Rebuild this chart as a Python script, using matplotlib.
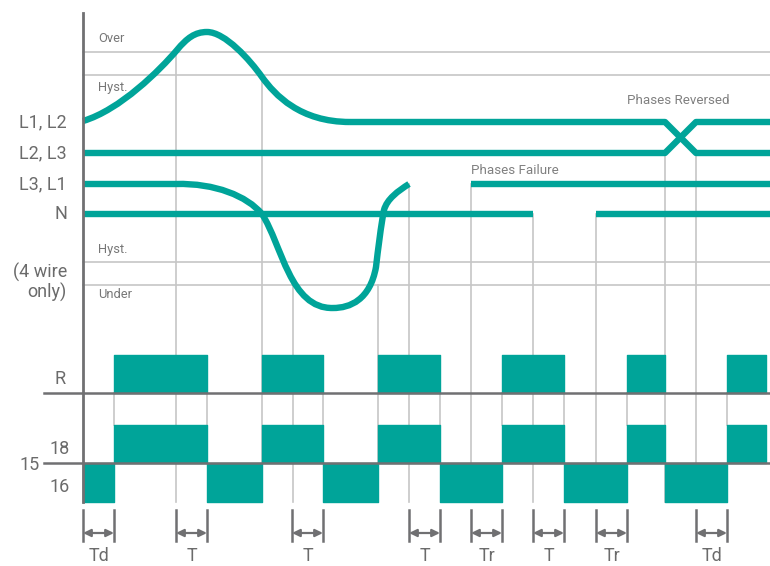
import matplotlib
matplotlib.use("Agg")
import matplotlib.pyplot as plt
from matplotlib.path import Path
from matplotlib.patches import PathPatch

plt.rcParams['font.family'] = ['Roboto', 'DejaVu Sans']

TEAL = '#00a499'
GRID = '#c6c6c6'
AXIS = '#707072'
TXT = '#6b6b6b'

# threshold levels (y in picture units)
level_y = [52, 75, 262, 285]
level_names = ['Over', 'Hyst.', 'Hyst.', 'Under']
level_text_y = [39, 87, 249, 295]

# signal rows
row_names = ['L1, L2', 'L2, L3', 'L3, L1', 'N']
row_y = [122, 153, 184, 214]

# L1,L2 voltage: bezier segments (start, ctrl1, ctrl2, end)
l1l2_curve = [
    [(83, 121), (120, 110), (160, 70), (177, 50)],
    [(177, 50), (187, 38), (195, 32), (207, 32)],
    [(207, 32), (225, 32), (250, 60), (262, 77)],
    [(262, 77), (275, 95), (300, 122), (350, 122)],
]
l1l2_tail_x = [350, 665, 696, 770]
l1l2_tail_y = [122, 122, 153, 153]
l2l3_x = [83, 665, 696, 770]
l2l3_y = [153, 153, 122, 122]

# L3,L1 voltage: flat, dip under, then failure
l3l1_curve = [
    [(83, 184), (120, 184), (150, 184), (176, 184)],
    [(176, 184), (215, 183), (247, 196), (262, 214)],
    [(262, 214), (282, 245), (290, 309), (333, 308)],
    [(333, 308), (350, 308), (370, 300), (376, 267)],
    [(376, 267), (378, 250), (381, 225), (384, 210)],
    [(384, 210), (387, 199), (398, 191), (409, 184)],
]
l3l1_back_x = [471, 770]
l3l1_back_y = [184, 184]

# neutral
n_segments = [(83, 533), (596, 770)]

# event lines (x, top y)
event_x = [176, 262, 293, 378, 409, 471, 533, 596, 665, 696]
event_top = [52, 75, 285, 285, 184, 184, 214, 214, 153, 153]
relay_edge_x = [114, 207, 323, 440, 502, 564, 627, 727]

# relay states
r_on = [(114, 207), (262, 323), (378, 440), (502, 564), (627, 665), (727, 766)]
c16_on = [(83, 114), (207, 262), (323, 378), (440, 502), (564, 627), (665, 727)]

# timing intervals
delay_start = [83, 176, 292, 409, 471, 533, 596, 696]
delay_end = [114, 207, 323, 440, 502, 564, 627, 727]
delay_names = ['Td', 'T', 'T', 'T', 'Tr', 'T', 'Tr', 'Td']


def bezier_path(segs):
    verts = [segs[0][0]]
    codes = [Path.MOVETO]
    for s in segs:
        verts += [s[1], s[2], s[3]]
        codes += [Path.CURVE4] * 3
    return Path(verts, codes)


fig = plt.figure(figsize=(7.7, 5.66), dpi=100)
ax = fig.add_axes([0, 0, 1, 1])
ax.set_xlim(0, 770)
ax.set_ylim(566, 0)
ax.axis('off')

# grid
for y in level_y:
    ax.plot([83, 770], [y, y], color=GRID, lw=1.2, zorder=1)
for x, top in zip(event_x, event_top):
    ax.plot([x, x], [top, 502], color=GRID, lw=1.2, zorder=1)
for x in relay_edge_x:
    ax.plot([x, x], [393, 425], color=GRID, lw=1.2, zorder=1)

for name, y in zip(level_names, level_text_y):
    ax.text(98, y, name, fontsize=9.3, color='#777777', va='center', ha='left')

# voltages
lw = 4.6
for segs in (l1l2_curve, l3l1_curve):
    ax.add_patch(PathPatch(bezier_path(segs), fill=False, edgecolor=TEAL,
                           lw=lw, capstyle='butt', zorder=3))
ax.plot(l1l2_tail_x, l1l2_tail_y, color=TEAL, lw=lw, solid_capstyle='butt', zorder=3)
ax.plot(l2l3_x, l2l3_y, color=TEAL, lw=lw, solid_capstyle='butt', zorder=3)
ax.plot(l3l1_back_x, l3l1_back_y, color=TEAL, lw=lw, solid_capstyle='butt', zorder=3)
for x0, x1 in n_segments:
    ax.plot([x0, x1], [row_y[3], row_y[3]], color=TEAL, lw=lw, solid_capstyle='butt', zorder=3)

ax.text(627, 101, 'Phases Reversed', fontsize=9.6, color='#808080', va='center')
ax.text(471, 171, 'Phases Failure', fontsize=9.6, color='#808080', va='center')

for name, y in zip(row_names, row_y):
    ax.text(67, y, name, fontsize=13, color=TXT, ha='right', va='center')
ax.text(67, 282, '(4 wire\nonly)', fontsize=13, color=TXT, ha='right', va='center',
        linespacing=1.05)

# relay
ax.broken_barh([(a, b - a) for a, b in r_on], (355, 38), color=TEAL, zorder=2)
ax.broken_barh([(a, b - a) for a, b in r_on], (425, 38), color=TEAL, zorder=2)
ax.broken_barh([(a, b - a) for a, b in c16_on], (463, 39), color=TEAL, zorder=2)

ax.plot([44, 770], [393, 393], color=AXIS, lw=1.8, zorder=4)
ax.plot([44, 770], [463, 463], color=AXIS, lw=1.8, zorder=4)
ax.plot([83, 83], [13, 502], color=AXIS, lw=2.0, zorder=4)

ax.text(60, 379, 'R', fontsize=13, color=TXT, ha='center', va='center')
ax.text(60, 449, '18', fontsize=13, color=TXT, ha='center', va='center')
ax.text(30, 465, '15', fontsize=13, color=TXT, ha='center', va='center')
ax.text(60, 487, '16', fontsize=13, color=TXT, ha='center', va='center')

# timing markers
for x0, x1, name in zip(delay_start, delay_end, delay_names):
    ax.plot([x0, x0], [510, 541], color=AXIS, lw=1.8)
    ax.plot([x1, x1], [510, 541], color=AXIS, lw=1.8)
    ax.annotate('', xy=(x1, 533), xytext=(x0, 533),
                arrowprops=dict(arrowstyle='<|-|>,head_length=0.45,head_width=0.22',
                                color=AXIS, lw=1.6, shrinkA=0, shrinkB=0))
    ax.text((x0 + x1) / 2, 556, name, fontsize=13, color=TXT, ha='center', va='center')

fig.savefig('out.png', dpi=100)
